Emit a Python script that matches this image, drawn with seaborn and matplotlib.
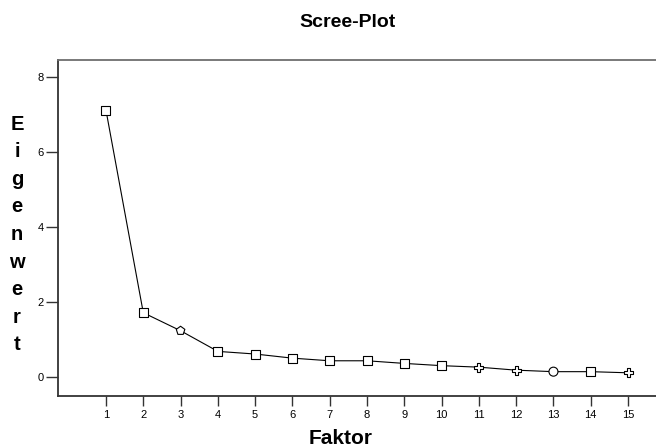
import matplotlib
matplotlib.use("Agg")
import matplotlib.pyplot as plt
import seaborn as sns
import pandas as pd

# ---- data ----
faktor = [1, 2, 3, 4, 5, 6, 7, 8, 9, 10, 11, 12, 13, 14, 15]
eigenwert = [7.11, 1.72, 1.24, 0.69, 0.62, 0.51, 0.44, 0.44, 0.37, 0.31, 0.27, 0.19, 0.15, 0.15, 0.12]
marker_kind = ["s", "s", "p", "s", "s", "s", "s", "s", "s", "s", "P", "P", "o", "s", "P"]
y_ticks = [0, 2, 4, 6, 8]
title = "Scree-Plot"
x_label = "Faktor"
y_label = "Eigenwert"

df = pd.DataFrame({"Faktor": faktor, "Eigenwert": eigenwert, "kind": marker_kind})

sns.set_style("white")
plt.rcParams["font.family"] = ["Liberation Sans", "DejaVu Sans"]
plt.rcParams["text.color"] = "black"
plt.rcParams["axes.labelcolor"] = "black"
plt.rcParams["xtick.color"] = "black"
plt.rcParams["ytick.color"] = "black"

W, H = 656, 448
fig = plt.figure(figsize=(W / 100, H / 100), dpi=100)
ax = fig.add_axes([58 / W, 1 - 395.7 / H, 1 - 58 / W, (395.7 - 60) / H])

sns.lineplot(data=df, x="Faktor", y="Eigenwert", color="black", linewidth=0.8, ax=ax, zorder=2)
sns.scatterplot(data=df, x="Faktor", y="Eigenwert", style="kind",
                markers={"s": "s", "p": "p", "P": "P", "o": "o"},
                color="white", edgecolor="black", linewidth=0.8, s=42,
                legend=False, ax=ax, zorder=3)

ax.set_xlim(-0.287, 15.75)
ax.set_ylim(-0.49, 8.45)
ax.set_xticks(faktor)
ax.set_xticklabels([str(v) for v in faktor])
ax.set_yticks(y_ticks)
ax.set_yticklabels([str(v) for v in y_ticks])

ax.tick_params(axis="x", direction="out", length=7, width=1.0, color="#333333",
               labelcolor="black", labelsize=8, pad=3, bottom=True)
ax.tick_params(axis="y", direction="out", length=9, width=1.0, color="#333333",
               labelcolor="black", labelsize=8, pad=1, left=True)

for side in ["left", "bottom"]:
    ax.spines[side].set_color("#333333")
    ax.spines[side].set_linewidth(1.3)
ax.spines["top"].set_color("#6e6e6e")
ax.spines["top"].set_linewidth(1.3)
ax.spines["right"].set_visible(False)
ax.grid(False)

# labels
ax.set_xlabel(x_label, fontsize=15, fontweight="bold", color="black")
ax.xaxis.set_label_coords((341 - 58) / (W - 58), -(438 - 395.7) / (395.7 - 60))
ax.xaxis.label.set_va("center")
ax.set_ylabel("")

for k, ch in enumerate(y_label):
    fig.text(17 / W, 1 - (129.5 + 27.6 * k) / H, ch, ha="center", va="baseline",
             fontsize=14.5, fontweight="bold", color="black")

fig.text(348 / W, 1 - 22.5 / H, title, ha="center", va="center",
         fontsize=14, fontweight="bold", color="black")

fig.savefig("out.png", dpi=100)
